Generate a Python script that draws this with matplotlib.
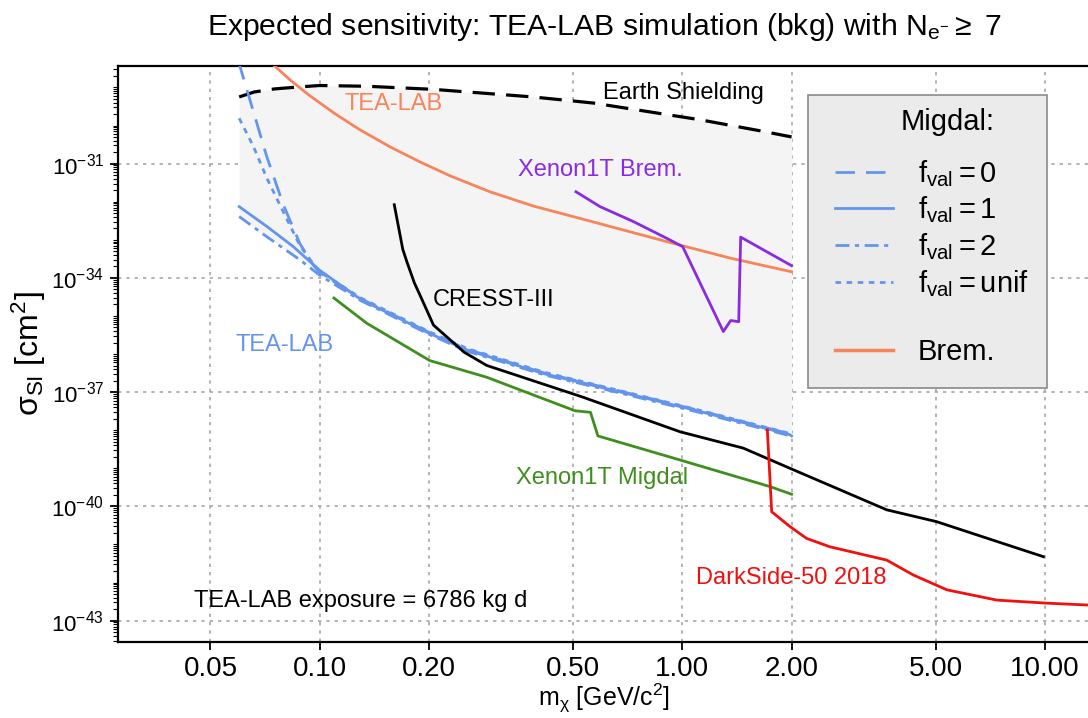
import numpy as np
import matplotlib
matplotlib.use('Agg')
import matplotlib.pyplot as plt
from matplotlib.ticker import FixedLocator, FixedFormatter, NullFormatter, NullLocator
from matplotlib.lines import Line2D
from matplotlib.patches import Rectangle
from matplotlib import font_manager

names = {f.name for f in font_manager.fontManager.ttflist}
REG = 'Liberation Sans'
NARROW = 'Liberation Sans Narrow' if 'Liberation Sans Narrow' in names else 'Liberation Sans'

plt.rcParams['font.family'] = [REG, 'DejaVu Sans']
plt.rcParams['mathtext.fontset'] = 'custom'
plt.rcParams['mathtext.rm'] = REG
plt.rcParams['mathtext.it'] = REG + ':italic'
plt.rcParams['mathtext.bf'] = REG + ':bold'
plt.rcParams['mathtext.default'] = 'regular'

# ---------------- data (x: GeV/c^2, log10 of sigma in cm^2) ----------------
earth_x = [0.06, 0.066, 0.075, 0.087, 0.10, 0.135, 0.205, 0.387, 0.568, 1.12, 1.64, 2.0]
earth_ly = [-29.25, -29.12, -29.04, -28.99, -28.95, -28.97, -29.05, -29.25, -29.41, -29.85, -30.14, -30.30]

brem_x = [0.072, 0.0754, 0.0828, 0.094, 0.1102, 0.129, 0.1563, 0.189, 0.2287, 0.2948, 0.387, 0.593, 0.907, 1.353, 2.0]
brem_ly = [-28.29, -28.45, -28.80, -29.22, -29.69, -30.11, -30.56, -30.955, -31.32, -31.74, -32.11, -32.58, -33.05, -33.48, -33.84]

mig0_x = [0.0597, 0.0603, 0.0715, 0.0794, 0.0883, 0.096, 0.100, 0.130, 0.201, 0.256, 0.417, 0.678, 1.10, 1.97, 2.0]
mig0_ly = [-28.30, -28.45, -30.82, -32.08, -33.11, -33.66, -33.86, -34.55, -35.44, -35.88, -36.50, -36.98, -37.47, -38.09, -38.13]

mig1_x = [0.06, 0.0715, 0.0846, 0.100, 0.130, 0.201, 0.256, 0.417, 0.678, 1.10, 1.97, 2.0]
mig1_ly = [-32.13, -32.65, -33.18, -33.80, -34.57, -35.46, -35.90, -36.52, -37.00, -37.49, -38.11, -38.15]

mig2_x = [0.06, 0.0715, 0.0883, 0.100, 0.130, 0.201, 0.256, 0.417, 0.678, 1.10, 1.97, 2.0]
mig2_ly = [-32.39, -32.92, -33.53, -33.93, -34.60, -35.49, -35.93, -36.55, -37.03, -37.52, -38.14, -38.18]

migu_x = [0.06, 0.0656, 0.0715, 0.0794, 0.0883, 0.096, 0.100, 0.130, 0.201, 0.256, 0.417, 0.678, 1.10, 1.97, 2.0]
migu_ly = [-29.81, -30.54, -31.38, -32.27, -33.16, -33.63, -33.84, -34.53, -35.42, -35.86, -36.48, -36.97, -37.46, -38.08, -38.12]

xmig_x = [0.1095, 0.1348, 0.201, 0.289, 0.506, 0.558, 0.585, 0.984, 1.744, 2.0]
xmig_ly = [-34.53, -35.19, -36.17, -36.61, -37.49, -37.53, -38.15, -38.78, -39.48, -39.68]

cresst_x = [0.1606, 0.1695, 0.174, 0.1824, 0.189, 0.206, 0.250, 0.289, 0.531, 0.985, 1.472, 1.98, 3.66, 5.02, 9.89]
cresst_ly = [-32.08, -33.25, -33.58, -34.13, -34.45, -35.24, -35.95, -36.30, -37.13, -38.04, -38.47, -39.00, -40.09, -40.40, -41.32]

ds_x = [1.715, 1.763, 1.98, 2.20, 2.55, 3.66, 4.33, 5.36, 7.36, 10.1, 13.13, 16.0]
ds_ly = [-37.99, -40.14, -40.53, -40.84, -41.06, -41.41, -41.80, -42.19, -42.46, -42.54, -42.59, -42.60]

xbrem_x = [0.509, 0.593, 0.732, 0.905, 1.002, 1.297, 1.359, 1.43, 1.448, 2.0]
xbrem_ly = [-31.74, -32.13, -32.52, -32.96, -33.18, -35.41, -35.12, -35.15, -32.93, -33.68]

xtick_vals = [0.05, 0.10, 0.20, 0.50, 1.00, 2.00, 5.00, 10.00]
xtick_labels = ['0.05', '0.10', '0.20', '0.50', '1.00', '2.00', '5.00', '10.00']
ytick_exps = [-43, -40, -37, -34, -31]

# ---------------- figure ----------------
W, H = 1088, 718
AX_L, AX_R, AX_T, AX_B = 118, 1090, 65.7, 642
fig = plt.figure(figsize=(W / 100, H / 100), dpi=100)
ax = fig.add_axes([AX_L / W, 1 - AX_B / H, (AX_R - AX_L) / W, (AX_B - AX_T) / H])
ax.set_xscale('log')
ax.set_yscale('log')
ax.set_xlim(0.0278, 13.3)
ax.set_ylim(10**-43.56, 10**-28.43)


def s(ly):
    return 10.0 ** np.asarray(ly)


def axfrac(px, py):
    return ((px - AX_L) / (AX_R - AX_L), (AX_B - py) / (AX_B - AX_T))


BLUE = '#6495ed'
ORANGE = '#f7845a'
GREEN = '#3f8f1e'
PURPLE = '#8a2be2'
RED = '#f01010'

# shaded region between Migdal curves and Earth shielding
gx = np.geomspace(0.06, 2.0, 500)
lg = np.log10(gx)
lows = [np.interp(lg, np.log10(cx), cy) for cx, cy in
        [(mig0_x, mig0_ly), (mig1_x, mig1_ly), (mig2_x, mig2_ly), (migu_x, migu_ly)]]
low = np.min(lows, axis=0)
up = np.interp(lg, np.log10(earth_x), earth_ly)
ax.fill_between(gx, s(low), s(up), color='#f4f4f4', lw=0, zorder=1)

D0 = (7, 4)
D2 = (5, 2, 1.5, 2)
DU = (2, 2)
ax.plot(earth_x, s(earth_ly), color='black', lw=2.3, dashes=(7, 3.5), zorder=3)
ax.plot(brem_x, s(brem_ly), color=ORANGE, lw=2.0, zorder=3)
ax.plot(mig0_x, s(mig0_ly), color=BLUE, lw=2.0, dashes=D0, zorder=3)
ax.plot(mig1_x, s(mig1_ly), color=BLUE, lw=2.0, zorder=3)
ax.plot(mig2_x, s(mig2_ly), color=BLUE, lw=2.0, dashes=D2, zorder=3)
ax.plot(migu_x, s(migu_ly), color=BLUE, lw=2.0, dashes=DU, zorder=3)
ax.plot(xmig_x, s(xmig_ly), color=GREEN, lw=2.0, zorder=3)
ax.plot(cresst_x, s(cresst_ly), color='black', lw=2.0, zorder=3)
ax.plot(ds_x, s(ds_ly), color=RED, lw=2.0, zorder=3)
ax.plot(xbrem_x, s(xbrem_ly), color=PURPLE, lw=2.0, zorder=3)

# annotations
fs_ann = 17
ax.text(1.01, s(-29.14), 'Earth Shielding', color='black', fontsize=fs_ann, ha='center', va='center')
ax.text(0.160, s(-29.43), 'TEA-LAB', color=ORANGE, fontsize=fs_ann, ha='center', va='center')
ax.text(0.593, s(-31.17), 'Xenon1T Brem.', color=PURPLE, fontsize=fs_ann, ha='center', va='center')
ax.text(0.301, s(-34.58), 'CRESST-III', color='black', fontsize=fs_ann, ha='center', va='center')
ax.text(0.0802, s(-35.76), 'TEA-LAB', color=BLUE, fontsize=fs_ann, ha='center', va='center')
ax.text(0.600, s(-39.25), 'Xenon1T Migdal', color=GREEN, fontsize=fs_ann, ha='center', va='center')
ax.text(1.993, s(-41.88), 'DarkSide-50 2018', color=RED, fontsize=fs_ann, ha='center', va='center')
ax.text(0.130, s(-42.48), 'TEA-LAB exposure = 6786 kg d', color='black', fontsize=fs_ann, ha='center', va='center')

# ticks
ax.xaxis.set_major_locator(FixedLocator(xtick_vals))
ax.xaxis.set_major_formatter(FixedFormatter(xtick_labels))
ax.xaxis.set_minor_locator(NullLocator())
ax.yaxis.set_major_locator(FixedLocator([10.0**e for e in ytick_exps]))
minor = []
for e in range(-45, -27):
    for k in range(1, 10):
        if k == 1 and e in ytick_exps:
            continue
        minor.append(k * 10.0**e)
ax.yaxis.set_minor_locator(FixedLocator(minor))
ax.yaxis.set_minor_formatter(NullFormatter())
ax.tick_params(axis='x', which='major', direction='out', length=6, width=1.3, labelsize=20, pad=4)
ax.tick_params(axis='y', which='major', direction='out', length=6, width=1.3, labelsize=16, pad=4)
ax.tick_params(axis='y', which='minor', direction='out', length=3.5, width=0.8)
for lab in ax.get_xticklabels():
    lab.set_fontfamily(NARROW)

ax.set_axisbelow(True)
ax.grid(True, which='major', color='#a8a8a8', lw=1.2, dashes=(2, 3))
for sp in ax.spines.values():
    sp.set_linewidth(1.6)
    sp.set_color('black')

ax.set_xlabel(r'm$_{\chi}$ [GeV/c$^{2}$]', fontsize=18, family=NARROW, labelpad=0)
ax.set_ylabel(r'$\sigma_{SI}$ [cm$^{2}$]', fontsize=23, labelpad=2)
ax.set_title(r'Expected sensitivity: TEA-LAB simulation (bkg) with N$_{e^{-}}$$\geq$ 7',
             fontsize=21.7, family=NARROW, pad=22)

# legend: frame, title and entries
x0, y1 = axfrac(808, 95)
x1, y0 = axfrac(1047, 388)
ax.add_patch(Rectangle((x0, y0), x1 - x0, y1 - y0, transform=ax.transAxes,
                       facecolor='#ebebeb', edgecolor='#8a8a8a', lw=1.2, zorder=5))
tx, ty = axfrac(948, 122)
ax.text(tx, ty, 'Migdal:', transform=ax.transAxes, fontsize=21, ha='center', va='center', zorder=6)

handles = [
    Line2D([], [], color=BLUE, lw=2.0, dashes=D0),
    Line2D([], [], color=BLUE, lw=2.0),
    Line2D([], [], color=BLUE, lw=2.0, dashes=D2),
    Line2D([], [], color=BLUE, lw=2.0, dashes=DU),
    Line2D([], [], color='none', lw=0),
    Line2D([], [], color=ORANGE, lw=2.5),
]
labels = [r'$f_{val} = 0$', r'$f_{val} = 1$', r'$f_{val} = 2$', r'$f_{val} = unif$', ' ', 'Brem.']
lx, ly = axfrac(835, 158)
leg = ax.legend(handles, labels, loc='upper left', bbox_to_anchor=(lx, ly),
                fontsize=21, frameon=False, borderpad=0, borderaxespad=0,
                handlelength=2.0, handletextpad=0.85, labelspacing=0.2)
leg.set_zorder(7)

fig.savefig('out.png', dpi=100, facecolor='white')
